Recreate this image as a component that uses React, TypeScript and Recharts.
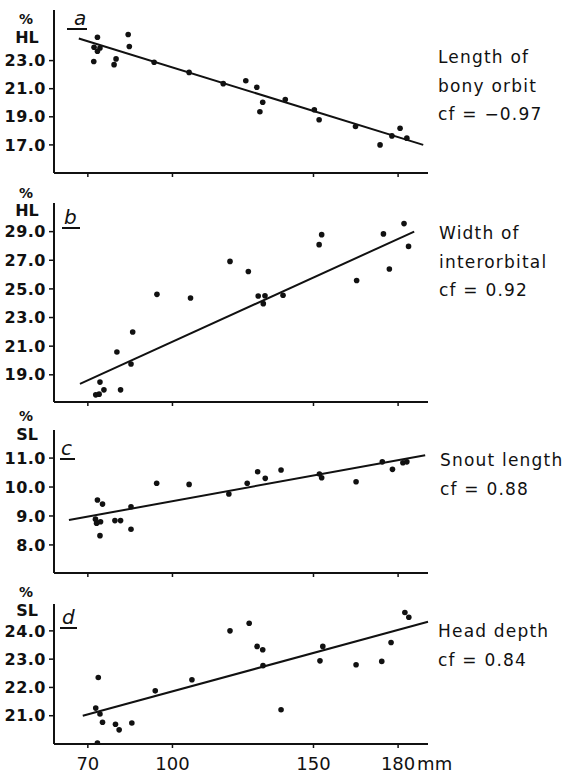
import React from 'react';
import { ScatterChart, Scatter, XAxis, YAxis, ReferenceLine } from 'recharts';

// standard length (mm) ticks, shared by all four panels
const xTicks = [70, 100, 150, 180];

// a: length of bony orbit (% HL)
const orbitPts: [number, number][] = [
  [73.4, 24.66], [72.2, 23.95], [74.3, 23.9], [73.4, 23.66], [72.1, 22.93],
  [84.3, 24.86], [84.7, 24.0], [80.0, 23.12], [79.3, 22.71], [93.5, 22.88],
  [105.9, 22.16], [118.0, 21.36], [126.0, 21.57], [129.9, 21.1], [132.0, 20.04],
  [131.0, 19.36], [140.0, 20.23], [150.3, 19.5], [152.0, 18.79], [164.9, 18.31],
  [173.6, 17.0], [177.8, 17.64], [180.7, 18.19], [183.1, 17.48],
];
const orbitFit: [number, number][] = [[66.8, 24.57], [188.9, 17.0]];
const orbitTicks = [17, 19, 21, 23];

// b: width of interorbital (% HL)
const interPts: [number, number][] = [
  [74.3, 18.49], [72.8, 17.6], [74.0, 17.65], [75.7, 17.95], [81.6, 17.95],
  [80.3, 20.59], [85.3, 19.75], [85.9, 21.99], [94.5, 24.62], [106.4, 24.36],
  [120.4, 26.92], [126.9, 26.22], [130.4, 24.5], [132.8, 24.52], [132.2, 23.97],
  [139.2, 24.56], [152.0, 28.09], [152.9, 28.79], [165.3, 25.59], [174.8, 28.84],
  [176.9, 26.39], [182.1, 29.56], [183.7, 27.97],
];
const interFit: [number, number][] = [[67.2, 18.37], [185.7, 29.0]];
const interTicks = [19, 21, 23, 25, 27, 29];

// c: snout length (% SL)
const snoutPts: [number, number][] = [
  [73.4, 9.55], [75.2, 9.41], [72.7, 8.89], [73.1, 8.75], [74.5, 8.8],
  [74.3, 8.32], [79.6, 8.84], [81.6, 8.84], [85.3, 9.32], [85.3, 8.54],
  [94.4, 10.13], [105.9, 10.09], [120.0, 9.76], [126.5, 10.13], [130.2, 10.53],
  [132.9, 10.3], [138.5, 10.59], [152.1, 10.45], [152.9, 10.32], [165.1, 10.18],
  [174.4, 10.87], [178.0, 10.61], [181.7, 10.84], [183.1, 10.87],
];
const snoutFit: [number, number][] = [[63.3, 8.86], [189.6, 11.1]];
const snoutTicks = [8, 9, 10, 11];

// d: head depth (% SL)
const depthPts: [number, number][] = [
  [73.7, 22.35], [72.8, 21.27], [74.3, 21.06], [75.2, 20.77], [73.4, 20.03],
  [79.8, 20.7], [81.1, 20.5], [85.6, 20.74], [93.9, 21.88], [106.9, 22.27],
  [120.4, 24.0], [127.2, 24.27], [130.0, 23.45], [132.0, 23.33], [132.1, 22.77],
  [138.5, 21.21], [153.3, 23.45], [152.3, 22.94], [165.1, 22.8], [174.2, 22.92],
  [177.5, 23.59], [182.4, 24.65], [183.8, 24.48],
];
const depthFit: [number, number][] = [[68.2, 21.0], [190.6, 24.32]];
const depthTicks = [21, 22, 23, 24];

const FONT = '"DejaVu Sans", sans-serif';

const Dot = (p: any) => <circle cx={p.cx} cy={p.cy} r={2.8} fill="#111" />;

const XTick = (p: any) => {
  const v = p.payload.value;
  return (
    <g>
      <text x={p.x} y={p.y} dy="0.71em" textAnchor="middle" fontSize={18} fill="#111" fontFamily={FONT}>
        {v}
      </text>
      {v === 180 && (
        <text x={p.x + 19} y={p.y} dy="0.71em" textAnchor="start" fontSize={18} fill="#111" fontFamily={FONT}>
          mm
        </text>
      )}
    </g>
  );
};

interface PanelProps {
  top: number;
  bottom: number;
  domain: [number, number];
  yTicks: number[];
  pts: [number, number][];
  fit: [number, number][];
  showX?: boolean;
}

function Panel({ top, bottom, domain, yTicks, pts, fit, showX }: PanelProps) {
  const data = pts.map(([x, y]) => ({ x, y }));
  const h = bottom - top + 10 + 30;
  return (
    <div style={{ position: 'absolute', left: 0, top: top - 10 }}>
      <ScatterChart width={576} height={h} margin={{ top: 10, right: 148, bottom: 0, left: 0 }}>
        <XAxis
          type="number"
          dataKey="x"
          domain={[58, 190.6]}
          ticks={xTicks}
          allowDataOverflow
          height={30}
          axisLine={{ stroke: '#111', strokeWidth: 2 }}
          tickLine={{ stroke: '#111', strokeWidth: 1.5 }}
          tickSize={4}
          tickMargin={9}
          tick={showX ? XTick : () => <g />}
        />
        <YAxis
          type="number"
          dataKey="y"
          domain={domain}
          ticks={yTicks}
          allowDataOverflow
          width={54}
          axisLine={{ stroke: '#111', strokeWidth: 2 }}
          tickLine={{ stroke: '#111', strokeWidth: 1.5 }}
          tickSize={5}
          tickMargin={3}
          tickFormatter={(v: number) => v.toFixed(1)}
          tick={{ fontSize: 16, fontWeight: 'bold', fill: '#111', fontFamily: FONT, letterSpacing: 0.5 }}
        />
        <ReferenceLine
          segment={[{ x: fit[0][0], y: fit[0][1] }, { x: fit[1][0], y: fit[1][1] }]}
          stroke="#111"
          strokeWidth={2}
          ifOverflow="visible"
        />
        <Scatter data={data} shape={Dot} isAnimationActive={false} />
      </ScatterChart>
    </div>
  );
}

const unitLabels = [
  { unit: 'HL', p: 24, u: 43 },
  { unit: 'HL', p: 198, u: 216 },
  { unit: 'SL', p: 421, u: 440 },
  { unit: 'SL', p: 597, u: 616 },
];

const panelLetters = [
  { t: 'a', x: 74, base: 25, ux1: 67, ux2: 87, uy: 29 },
  { t: 'b', x: 64, base: 224, ux1: 62, ux2: 80, uy: 228 },
  { t: 'c', x: 61, base: 455, ux1: 60, ux2: 75, uy: 459 },
  { t: 'd', x: 62, base: 624, ux1: 60, ux2: 77, uy: 628 },
];

const sideLabels = [
  { x: 438, lines: ['Length of', 'bony orbit', 'cf = −0.97'], base: 63 },
  { x: 439, lines: ['Width of', 'interorbital', 'cf = 0.92'], base: 239 },
  { x: 440, lines: ['Snout length', 'cf = 0.88'], base: 466 },
  { x: 438, lines: ['Head depth', 'cf = 0.84'], base: 637 },
];

export default function App() {
  return (
    <div
      style={{
        position: 'absolute',
        left: 0,
        top: 0,
        width: 576,
        height: 776,
        background: '#fff',
        overflow: 'hidden',
      }}
    >
      <Panel top={10} bottom={173} domain={[15, 26.6]} yTicks={orbitTicks} pts={orbitPts} fit={orbitFit} />
      <Panel top={203} bottom={402} domain={[17.1, 31]} yTicks={interTicks} pts={interPts} fit={interFit} />
      <Panel top={430} bottom={573} domain={[7.03, 11.97]} yTicks={snoutTicks} pts={snoutPts} fit={snoutFit} />
      <Panel top={604} bottom={744} domain={[20, 24.95]} yTicks={depthTicks} pts={depthPts} fit={depthFit} showX />

      <svg width={576} height={776} style={{ position: 'absolute', left: 0, top: 0, pointerEvents: 'none' }}>
        {unitLabels.map((l, i) => (
          <g key={i} fontFamily={FONT} fontWeight="bold" fill="#111" textAnchor="middle">
            <text x={26} y={l.p} fontSize={14}>%</text>
            <text x={27} y={l.u} fontSize={16}>{l.unit}</text>
          </g>
        ))}
        {panelLetters.map((l, i) => (
          <g key={i}>
            <text x={l.x} y={l.base} fontSize={20} fontStyle="italic" fontFamily={FONT} fill="#111">
              {l.t}
            </text>
            <line x1={l.ux1} x2={l.ux2} y1={l.uy} y2={l.uy} stroke="#111" strokeWidth={2} />
          </g>
        ))}
        {sideLabels.map((s, i) => (
          <g key={i} fontFamily={FONT} fontSize={17} fill="#111" letterSpacing={1.2}>
            {s.lines.map((ln, j) => (
              <text key={j} x={s.x} y={s.base + j * 28.5}>
                {ln}
              </text>
            ))}
          </g>
        ))}
      </svg>
    </div>
  );
}
